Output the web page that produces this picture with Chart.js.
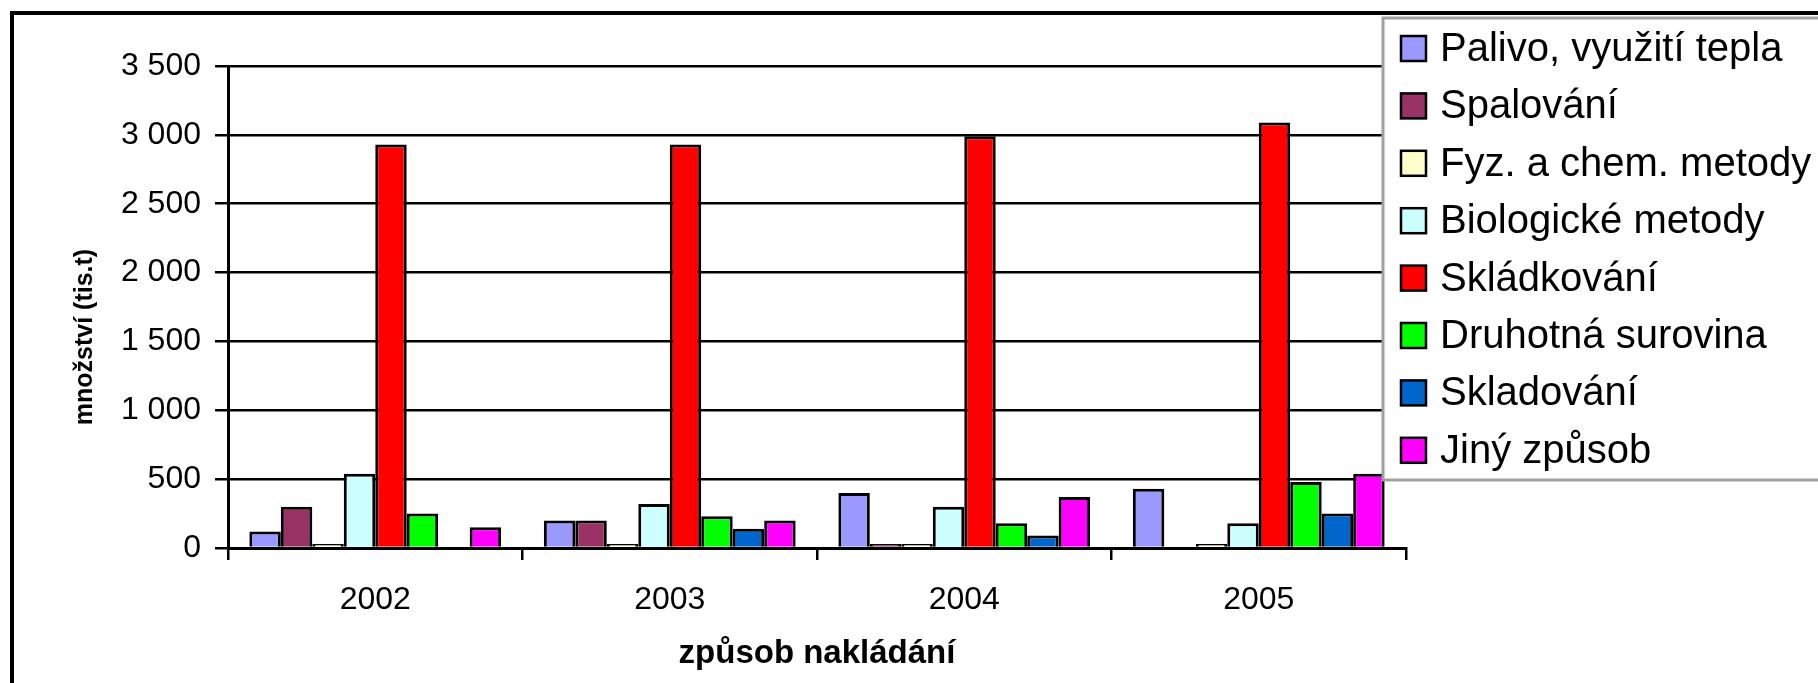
<!DOCTYPE html>
<html>
<head>
<meta charset="utf-8">
<script src="https://cdn.jsdelivr.net/npm/chart.js@4"></script>
<style>
  html, body { margin: 0; padding: 0; background: #fff; }
  #wrap { width: 1818px; height: 683px; }
</style>
</head>
<body>
<div id="wrap"><canvas id="chart" width="1818" height="683"></canvas></div>
<script>
const categories = ['2002', '2003', '2004', '2005'];

const seriesNames = [
  'Palivo, využití tepla',
  'Spalování',
  'Fyz. a chem. metody',
  'Biologické metody',
  'Skládkování',
  'Druhotná surovina',
  'Skladování',
  'Jiný způsob'
];
const seriesColors = ['#9999ff', '#993366', '#ffffcc', '#ccffff', '#ff0000', '#00ff00', '#0066cc', '#ff00ff'];

// množství (tis. t); null = no bar in that year
const palivo = [120, 200, 400, 430];
const spalovani = [300, 200, 15, null];
const fyzChem = [20, 20, 15, 20];
const biologicke = [540, 320, 300, 180];
const skladkovani = [2930, 2930, 2990, 3090];
const druhotna = [250, 230, 180, 480];
const skladovani = [null, 140, 90, 250];
const jiny = [150, 200, 370, 540];

const yTitle = 'množství (tis.t)';
const xTitle = 'způsob nakládání';

const seriesValues = [palivo, spalovani, fyzChem, biologicke, skladkovani, druhotna, skladovani, jiny];

function withSpaces(v) {
  return String(v).replace(/\B(?=(\d{3})+(?!\d))/g, ' ');
}

// white page, black frame, axis titles and the boxed legend
const framePlugin = {
  id: 'frame',
  beforeDraw(chart) {
    const ctx = chart.ctx;
    ctx.save();
    ctx.fillStyle = '#fff';
    ctx.fillRect(0, 0, chart.width, chart.height);
    ctx.restore();
  },
  afterDraw(chart) {
    const ctx = chart.ctx;
    const area = chart.chartArea;
    ctx.save();

    // outer frame
    ctx.strokeStyle = '#000';
    ctx.lineWidth = 4;
    ctx.beginPath();
    ctx.moveTo(12, chart.height);
    ctx.lineTo(12, 13);
    ctx.lineTo(chart.width, 13);
    ctx.stroke();

    // axis titles
    ctx.fillStyle = '#000';
    ctx.font = 'bold 25px "Liberation Sans", Arial, sans-serif';
    ctx.textAlign = 'center';
    ctx.textBaseline = 'middle';
    ctx.save();
    ctx.translate(85, 337);
    ctx.rotate(-Math.PI / 2);
    ctx.fillText(yTitle, 0, 0);
    ctx.restore();

    ctx.font = 'bold 33px "Liberation Sans", Arial, sans-serif';
    ctx.fillText(xTitle, (area.left + area.right) / 2, 654);

    // legend box
    const lx = 1383, ly = 18, lb = 480;
    ctx.fillStyle = '#fff';
    ctx.fillRect(lx, ly, chart.width - lx + 5, lb - ly);
    ctx.strokeStyle = '#a0a0a0';
    ctx.lineWidth = 3;
    ctx.strokeRect(lx, ly, chart.width - lx + 5, lb - ly);

    ctx.font = '40px "Liberation Sans", Arial, sans-serif';
    ctx.textAlign = 'left';
    ctx.textBaseline = 'middle';
    chart.data.datasets.forEach((ds, i) => {
      const cy = 48 + i * 57.4;
      ctx.fillStyle = ds.backgroundColor;
      ctx.fillRect(1401, cy - 12, 25, 25);
      ctx.strokeStyle = '#000';
      ctx.lineWidth = 2.5;
      ctx.strokeRect(1401, cy - 12, 25, 25);
      ctx.fillStyle = '#000';
      ctx.fillText(ds.label, 1440, cy + 2);
    });

    ctx.restore();
  }
};

new Chart(document.getElementById('chart'), {
  type: 'bar',
  data: {
    labels: categories,
    datasets: seriesNames.map((name, i) => ({
      label: name,
      data: seriesValues[i],
      backgroundColor: seriesColors[i],
      borderColor: '#000',
      borderWidth: 3,
      borderSkipped: 'bottom',
      minBarLength: 4,
      categoryPercentage: 0.855,
      barPercentage: 1
    }))
  },
  options: {
    responsive: false,
    animation: false,
    layout: {
      padding: { left: 12, top: 66, right: 412, bottom: 0 }
    },
    plugins: {
      legend: { display: false },
      tooltip: { enabled: false }
    },
    scales: {
      x: {
        afterFit: (scale) => { scale.height = 135; },
        grid: {
          drawOnChartArea: false,
          drawTicks: true,
          tickLength: 12,
          color: '#000',
          lineWidth: 2.5
        },
        border: { color: '#000', width: 3 },
        ticks: {
          color: '#000',
          padding: 21,
          font: { family: '"Liberation Sans", Arial, sans-serif', size: 32 }
        }
      },
      y: {
        min: 0,
        max: 3500,
        afterFit: (scale) => { scale.width = 216; },
        grid: {
          color: '#000',
          lineWidth: 2.5,
          tickLength: 13
        },
        border: { color: '#000', width: 3 },
        ticks: {
          stepSize: 500,
          color: '#000',
          padding: 14,
          font: { family: '"Liberation Sans", Arial, sans-serif', size: 32 },
          callback: (v) => withSpaces(v)
        }
      }
    }
  },
  plugins: [framePlugin]
});
</script>
</body>
</html>
